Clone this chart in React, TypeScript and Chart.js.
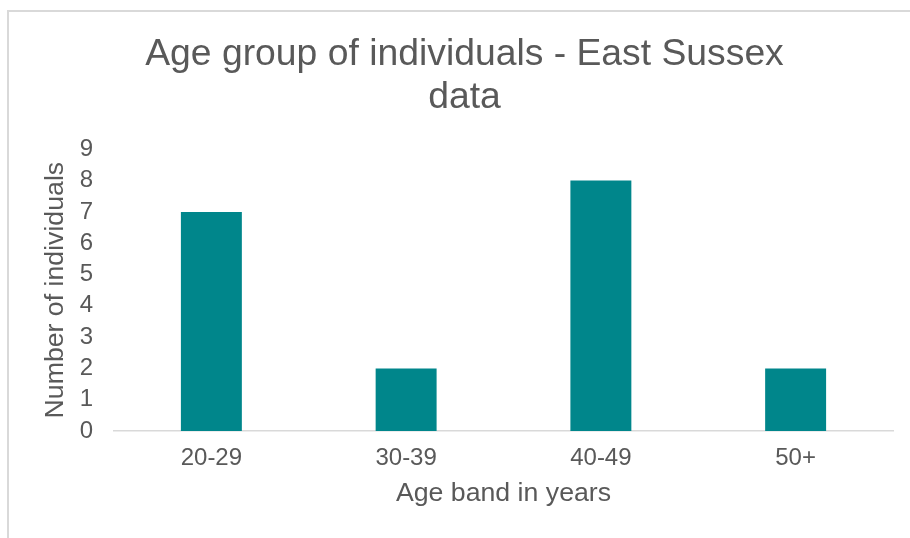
import React, { useEffect, useRef } from "react";
import { Chart, registerables } from "chart.js";

Chart.register(...registerables);

const categories = ["20-29", "30-39", "40-49", "50+"];
const individuals = [7, 2, 8, 2];
const titleLines = ["Age group of individuals - East Sussex", "data"];
const xTitle = "Age band in years";
const yTitle = "Number of individuals";

const FONT = "'Liberation Sans', Arial, sans-serif";
const TEXT = "#595959";

export default function App() {
  const ref = useRef<HTMLCanvasElement | null>(null);

  useEffect(() => {
    if (!ref.current) return;
    const chart = new Chart(ref.current, {
      type: "bar",
      data: {
        labels: categories,
        datasets: [
          {
            data: individuals,
            backgroundColor: "#00868B",
            borderWidth: 0,
            barPercentage: 0.313,
            categoryPercentage: 1,
          },
        ],
      },
      options: {
        animation: false,
        responsive: false,
        maintainAspectRatio: false,
        layout: { padding: { left: 36, right: 17, top: 0, bottom: 0 } },
        plugins: {
          legend: { display: false },
          tooltip: { enabled: false },
          title: {
            display: true,
            text: titleLines,
            color: TEXT,
            font: { family: FONT, size: 37.3, weight: "normal", lineHeight: 1.13 },
            padding: { top: 34, bottom: 31 },
          },
        },
        scales: {
          x: {
            grid: { display: false, drawTicks: false },
            border: { display: true, color: "#d9d9d9", width: 1.5 },
            ticks: { color: TEXT, font: { family: FONT, size: 24 }, padding: 13 },
            title: {
              display: true,
              text: xTitle,
              color: TEXT,
              font: { family: FONT, size: 26.7, lineHeight: 1.2 },
              padding: { top: 0, bottom: 28 },
            },
            afterFit: (scale: any) => {
              scale.height = 107;
            },
          },
          y: {
            min: 0,
            max: 9,
            grid: { display: false, drawTicks: false },
            border: { display: false },
            ticks: {
              stepSize: 1,
              autoSkip: false,
              color: TEXT,
              font: { family: FONT, size: 24 },
              padding: 21,
            },
            title: {
              display: true,
              text: yTitle,
              color: TEXT,
              font: { family: FONT, size: 26.7, lineHeight: 1.2 },
              padding: { top: 4, bottom: 0 },
            },
            afterFit: (scale: any) => {
              scale.width = 78;
            },
          },
        },
      },
    });
    return () => chart.destroy();
  }, []);

  return (
    <div>
      <div
        style={{
          position: "fixed",
          left: 7,
          top: 10,
          width: 960,
          height: 600,
          borderLeft: "2px solid #d9d9d9",
          borderTop: "2px solid #d9d9d9",
          boxSizing: "border-box",
        }}
      />
      <canvas
        ref={ref}
        width={910}
        height={538}
        style={{ position: "fixed", left: 0, top: 0, width: 910, height: 538 }}
      />
    </div>
  );
}
